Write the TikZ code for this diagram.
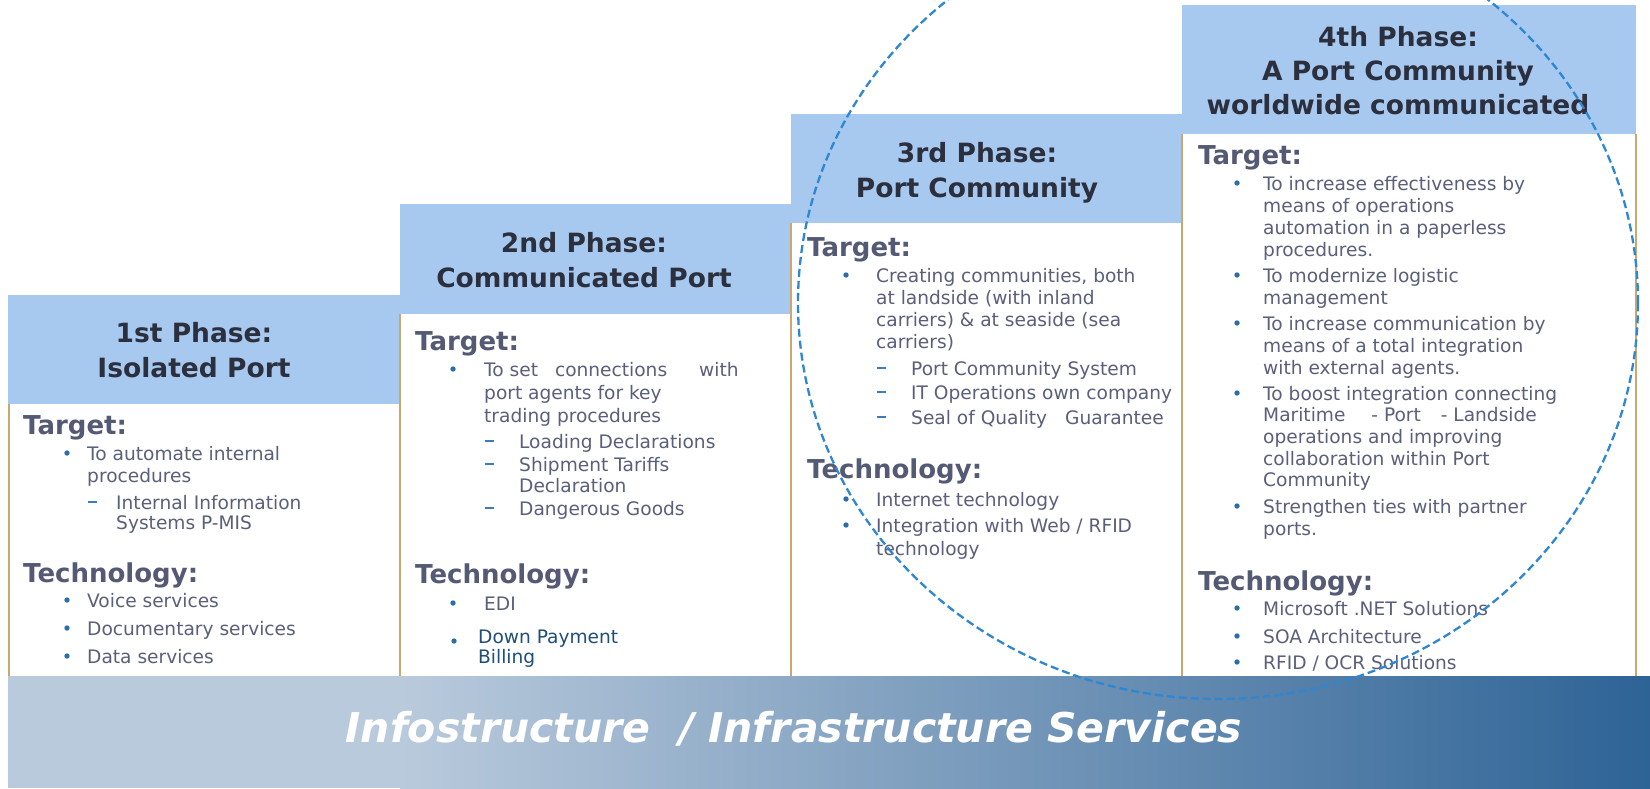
\documentclass[tikz,border=0pt]{standalone}
\usepackage{fontspec}
\setmainfont{DejaVu Sans}
\definecolor{hdrblue}{HTML}{A7C9EF}
\definecolor{hdrtext}{HTML}{2B2F3E}
\definecolor{sectext}{HTML}{555A74}
\definecolor{bodytext}{HTML}{5A5F7A}
\definecolor{bulblue}{HTML}{2E6EA8}
\definecolor{dashblue}{HTML}{3A7CC0}
\definecolor{darkblue}{HTML}{1F4E79}
\definecolor{gold}{HTML}{C8A870}
\definecolor{banL}{HTML}{B9CADC}
\definecolor{banR}{HTML}{2E6396}
\definecolor{circ}{HTML}{2F86D1}
\tikzset{
  hdr/.style={font=\fontsize{26.5}{35}\selectfont\bfseries, text=hdrtext, align=center, anchor=base, inner sep=0pt},
  sec/.style={font=\fontsize{26}{30}\selectfont\bfseries, text=sectext, anchor=base west, inner sep=0pt},
  itm/.style={font=\fontsize{18.6}{22}\selectfont, text=bodytext, align=left, anchor=base west, inner sep=0pt},
  hbox/.style={fill=hdrblue},
  goldline/.style={draw=gold, line width=2.6pt},
  bul/.style={fill=bulblue},
  dsh/.style={draw=dashblue, line width=1.6pt},
}
\newcommand{\mybul}[2]{\fill[bul] (#1,#2) circle (2.7pt);}
\newcommand{\mydash}[2]{\draw[dsh] (#1,#2) -- ++(9,0);}
\begin{document}
\begin{tikzpicture}[x=1pt,y=-1pt]
\fill[white] (0,0) rectangle (1650,788);
\useasboundingbox (0,0) rectangle (1650,788);
% header boxes
\fill[hbox] (8,295) rectangle (400,404);
\fill[hbox] (400,204) rectangle (791,314);
\fill[hbox] (791,114) rectangle (1182,223);
\fill[hbox] (1182,5) rectangle (1636,134);
% gold lines
\draw[goldline] (9,404) -- (9,676);
\draw[goldline] (400,314) -- (400,676);
\draw[goldline] (791,223) -- (791,676);
\draw[goldline] (1182,134) -- (1182,676);
\draw[goldline] (1636,134) -- (1636,676);
% banner
\fill[banL] (8,676) rectangle (400,788);
\shade[left color=banL, right color=banR] (400,676) rectangle (1650,788);
\node[font=\fontsize{41}{41}\selectfont\bfseries\itshape, text=white, anchor=base, inner sep=0pt] (banner) at (794,742) {Infostructure\hspace{0.7em}/ Infrastructure Services};
% headers (anchored at last baseline)
\node[hdr] (h1) at (194,377) {1st Phase:\\Isolated Port};
\node[hdr] (h2) at (584,287) {2nd Phase:\\Communicated Port};
\node[hdr] (h3) at (977,197) {3rd Phase:\\Port Community};
\node[hdr, font=\fontsize{26.5}{34}\selectfont\bfseries] (h4) at (1398,114) {4th Phase:\\A Port Community\\worldwide communicated};
% column 1
\node[sec] (t1) at (23,434) {Target:};
\mybul{67}{453}
\node[itm] (c1a) at (87,482) {To automate internal\\procedures};
\mydash{88}{502}
\node[itm, font=\fontsize{18.6}{20}\selectfont] (c1b) at (116,529) {Internal Information\\Systems P-MIS};
\node[sec] (g1) at (23,582) {Technology:};
\mybul{67}{600}
\node[itm] (c1c) at (87,607) {Voice services};
\mybul{67}{628}
\node[itm] (c1d) at (87,635) {Documentary services};
\mybul{67}{656}
\node[itm] (c1e) at (87,663) {Data services};
% column 2
\node[sec] (t2) at (415,350) {Target:};
\mybul{453}{369}
\node[itm, font=\fontsize{18.6}{23}\selectfont] (c2a) at (484,422) {To set\hspace{11pt} connections\hspace{26pt} with\\port agents for key\\trading procedures};
\mydash{485}{441}
\node[itm] (c2b) at (519,448) {Loading Declarations};
\mydash{485}{464}
\node[itm, font=\fontsize{18.6}{21}\selectfont] (c2c) at (519,492) {Shipment Tariffs\\Declaration};
\mydash{485}{508}
\node[itm] (c2d) at (519,515) {Dangerous Goods};
\node[sec] (g2) at (415,583) {Technology:};
\mybul{453}{603}
\node[itm] (c2e) at (484,610) {EDI};
\mybul{454}{641}
\node[itm, text=darkblue, font=\fontsize{18.6}{20}\selectfont] (c2f) at (478,663) {Down Payment\\Billing};
% column 3
\node[sec] (t3) at (807,256) {Target:};
\mybul{846}{275}
\node[itm] (c3a) at (876,348) {Creating communities, both\\at landside (with inland\\carriers) \& at seaside (sea\\carriers)};
\mydash{877}{368}
\node[itm] (c3b) at (911,375) {Port Community System};
\mydash{877}{392}
\node[itm] (c3c) at (911,399) {IT Operations own company};
\mydash{877}{417}
\node[itm] (c3d) at (911,424) {Seal of Quality\hspace{12pt} Guarantee};
\node[sec] (g3) at (807,478) {Technology:};
\mybul{846}{499}
\node[itm] (c3e) at (876,506) {Internet technology};
\mybul{846}{525}
\node[itm, font=\fontsize{18.6}{23}\selectfont] (c3f) at (876,555) {Integration with Web / RFID\\technology};
% column 4
\node[sec] (t4) at (1198,164) {Target:};
\mybul{1237}{183}
\node[itm] (c4a) at (1263,256) {To increase effectiveness by\\means of operations\\automation in a paperless\\procedures.};
\mybul{1237}{275}
\node[itm] (c4b) at (1263,304) {To modernize logistic\\management};
\mybul{1237}{323}
\node[itm] (c4c) at (1263,374) {To increase communication by\\means of a total integration\\with external agents.};
\mybul{1237}{393}
\node[itm, font=\fontsize{18.6}{21.7}\selectfont] (c4d) at (1263,486.8) {To boost integration connecting\\Maritime\hspace{20pt} - Port\hspace{14pt} - Landside\\operations and improving\\collaboration within Port\\Community};
\mybul{1237}{506}
\node[itm] (c4e) at (1263,535) {Strengthen ties with partner\\ports.};
\node[sec] (g4) at (1198,590) {Technology:};
\mybul{1237}{608}
\node[itm] (c4f) at (1263,615) {Microsoft .NET Solutions};
\mybul{1237}{636}
\node[itm] (c4g) at (1263,643) {SOA Architecture};
\mybul{1237}{662}
\node[itm] (c4h) at (1263,669) {RFID / OCR Solutions};
% dashed circle
\draw[circ, line width=2.3pt, dash pattern=on 8pt off 4pt] (1218,303) ellipse [x radius=420pt, y radius=396pt];
\end{tikzpicture}
\end{document}
